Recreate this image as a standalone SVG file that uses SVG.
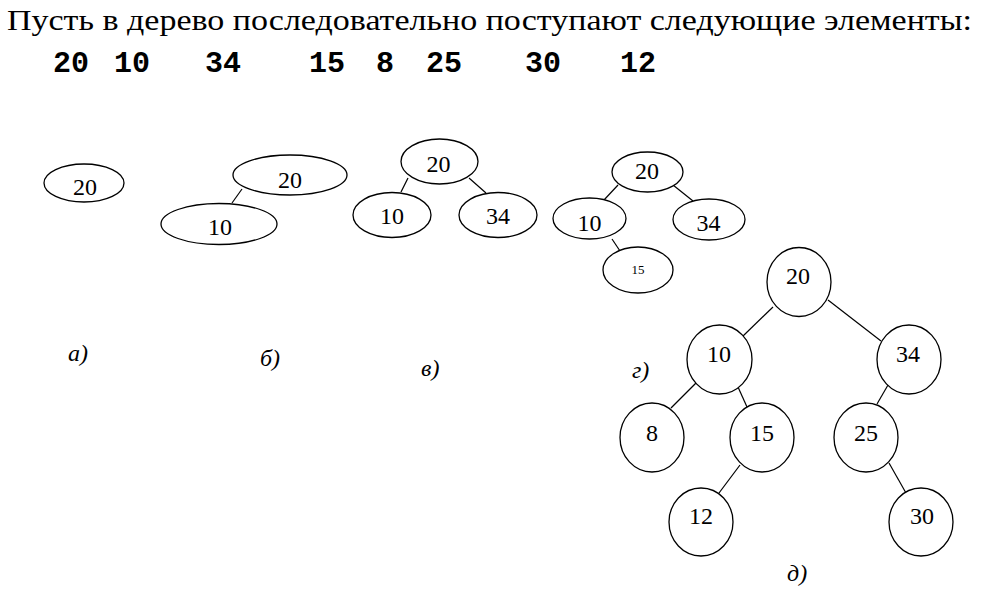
<svg xmlns="http://www.w3.org/2000/svg" width="989" height="610" viewBox="0 0 989 610">
<style>
.n{fill:#fff;stroke:#000;stroke-width:1.3}
.e{stroke:#000;stroke-width:1.2;fill:none}
.t{font-family:"Liberation Serif","Times New Roman",serif;font-size:24px;text-anchor:middle;fill:#000}
.s{font-family:"Liberation Serif","Times New Roman",serif;font-size:13px;text-anchor:middle;fill:#000}
.lab{font-family:"Liberation Serif","Times New Roman",serif;font-size:24px;font-style:italic;fill:#000}
.num{font-family:"Liberation Mono","Courier New",monospace;font-size:30px;font-weight:bold;text-anchor:middle;fill:#000}
.title{font-family:"Liberation Serif","Times New Roman",serif;font-size:30px;fill:#000}
</style>
<rect width="989" height="610" fill="#fff"/>
<text class="title" x="7" y="30" textLength="965" lengthAdjust="spacingAndGlyphs">Пусть в дерево последовательно поступают следующие элементы:</text>
<g id="sequence">
<text class="num" x="71" y="72">20</text>
<text class="num" x="132" y="72">10</text>
<text class="num" x="223" y="72">34</text>
<text class="num" x="327" y="72">15</text>
<text class="num" x="385" y="72">8</text>
<text class="num" x="444" y="72">25</text>
<text class="num" x="543" y="72">30</text>
<text class="num" x="638" y="72">12</text>
</g>
<g id="connectors">
<line class="e" x1="242" y1="189" x2="232" y2="203"/>
<line class="e" x1="408" y1="178" x2="401" y2="192"/>
<line class="e" x1="469" y1="178" x2="486" y2="193"/>
<line class="e" x1="618" y1="185" x2="604" y2="200"/>
<line class="e" x1="673" y1="185" x2="693" y2="201"/>
<line class="e" x1="612" y1="239" x2="620" y2="251"/>
<line class="e" x1="773" y1="307" x2="743" y2="336"/>
<line class="e" x1="828" y1="300" x2="881" y2="341"/>
<line class="e" x1="696" y1="383" x2="671" y2="408"/>
<line class="e" x1="738" y1="387" x2="747" y2="407"/>
<line class="e" x1="888" y1="385" x2="877" y2="404"/>
<line class="e" x1="740" y1="465" x2="719" y2="493"/>
<line class="e" x1="889" y1="463" x2="906" y2="493"/>
</g>
<g id="a-20"><ellipse class="n" cx="84" cy="183" rx="40" ry="19"/><text class="t" x="85" y="195">20</text></g>
<g id="b-20"><ellipse class="n" cx="290" cy="175" rx="57" ry="20"/><text class="t" x="290" y="188">20</text></g>
<g id="b-10"><ellipse class="n" cx="219" cy="224" rx="58" ry="20.5"/><text class="t" x="220" y="235">10</text></g>
<g id="v-20"><ellipse class="n" cx="439.5" cy="161.5" rx="38.5" ry="22.5"/><text class="t" x="438.5" y="172">20</text></g>
<g id="v-10"><ellipse class="n" cx="392" cy="215" rx="39" ry="22.5"/><text class="t" x="392" y="224">10</text></g>
<g id="v-34"><ellipse class="n" cx="498" cy="215" rx="39" ry="22.5"/><text class="t" x="498" y="224">34</text></g>
<g id="g-20"><ellipse class="n" cx="647.5" cy="172" rx="35.5" ry="20"/><text class="t" x="647" y="179">20</text></g>
<g id="g-10"><ellipse class="n" cx="589.5" cy="218.5" rx="36.5" ry="20.5"/><text class="t" x="589.5" y="231">10</text></g>
<g id="g-34"><ellipse class="n" cx="709" cy="219.5" rx="36" ry="20.5"/><text class="t" x="708.5" y="231">34</text></g>
<g id="g-15"><ellipse class="n" cx="638" cy="270" rx="35" ry="23"/><text class="s" x="638" y="274">15</text></g>
<g id="d-20"><ellipse class="n" cx="799" cy="282" rx="32" ry="34.5"/><text class="t" x="798" y="284">20</text></g>
<g id="d-10"><ellipse class="n" cx="719.5" cy="359.5" rx="32.5" ry="34.5"/><text class="t" x="719" y="362">10</text></g>
<g id="d-34"><ellipse class="n" cx="909" cy="359.5" rx="32" ry="34.5"/><text class="t" x="908" y="362">34</text></g>
<g id="d-8"><ellipse class="n" cx="652" cy="437.5" rx="32" ry="34.5"/><text class="t" x="652" y="441">8</text></g>
<g id="d-15"><ellipse class="n" cx="762" cy="437.5" rx="32" ry="34.5"/><text class="t" x="762" y="441">15</text></g>
<g id="d-25"><ellipse class="n" cx="866" cy="437.5" rx="32" ry="34.5"/><text class="t" x="866" y="441">25</text></g>
<g id="d-12"><ellipse class="n" cx="701" cy="522" rx="32" ry="34"/><text class="t" x="701" y="524">12</text></g>
<g id="d-30"><ellipse class="n" cx="921" cy="522" rx="32" ry="34"/><text class="t" x="922" y="524">30</text></g>
<g id="labels">
<text class="lab" x="68" y="361">а)</text>
<text class="lab" x="260" y="366">б)</text>
<text class="lab" x="421" y="376">в)</text>
<text class="lab" x="632" y="378">г)</text>
<text class="lab" x="787" y="581">д)</text>
</g>
</svg>
